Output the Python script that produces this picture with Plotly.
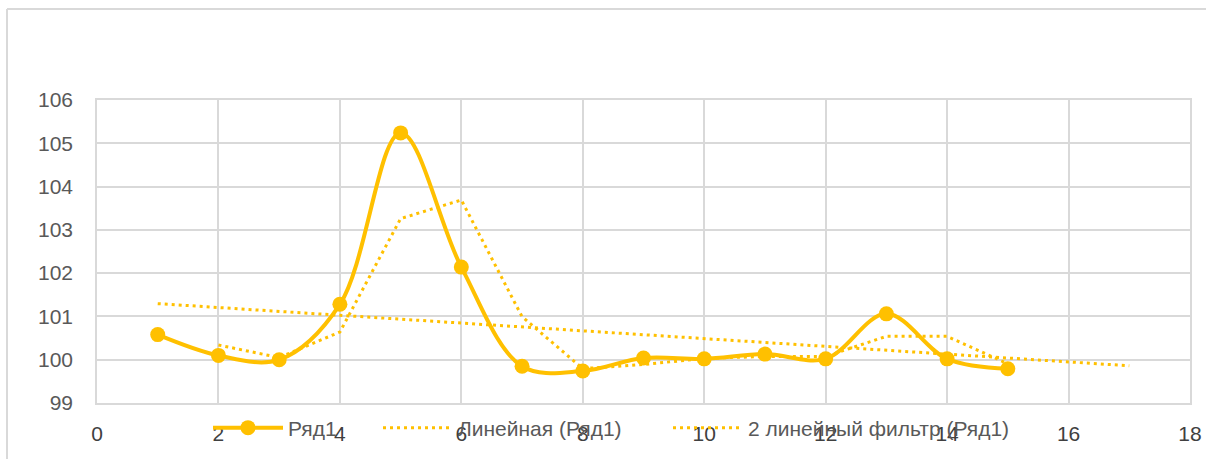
import numpy as np
import plotly.graph_objects as go

# Data
x_vals = list(range(1, 16))
series_name = "Ряд1"
y_vals = [100.58, 100.10, 100.00, 101.28, 105.24, 102.14, 99.85, 99.74,
          100.04, 100.02, 100.13, 100.02, 101.06, 100.02, 99.79]
trend_name = "Линейная (Ряд1)"
ma_name = "2 линейный фильтр (Ряд1)"
forecast_forward = 2
ma_period = 2

x_ticks = list(range(0, 19, 2))
y_ticks = list(range(99, 107))

COLOR = "#FFC000"
FONT = "Liberation Sans"
FS = 21

# Linear trendline (least squares, forecast forward 2 periods)
slope, intercept = np.polyfit(x_vals, y_vals, 1)
trend_x = [x_vals[0], x_vals[-1] + forecast_forward]
trend_y = [slope * t + intercept for t in trend_x]

# Moving average, period 2
ma_x = x_vals[ma_period - 1:]
ma_y = [float(np.mean(y_vals[i - ma_period + 1:i + 1])) for i in range(ma_period - 1, len(y_vals))]

DOTS = "3px,4px"

fig = go.Figure()
fig.add_trace(go.Scatter(
    x=x_vals, y=y_vals, name=series_name, mode="lines+markers",
    line=dict(color=COLOR, width=4, shape="spline", smoothing=1),
    marker=dict(color=COLOR, size=15), legend="legend",
))
fig.add_trace(go.Scatter(
    x=trend_x, y=trend_y, name=trend_name, mode="lines",
    line=dict(color=COLOR, width=3, dash=DOTS), legend="legend2",
))
fig.add_trace(go.Scatter(
    x=ma_x, y=ma_y, name=ma_name, mode="lines",
    line=dict(color=COLOR, width=3, dash=DOTS), legend="legend3",
))

L, R, T, B = 97, 16, 100, 56
W, H = 1206, 459
pw = W - L - R
ph = H - T - B


def px_x(p):
    return (p - L) / pw


def px_y(p):
    return (H - B - p) / ph


leg_common = dict(orientation="h", yanchor="middle", xanchor="left",
                  bgcolor="rgba(0,0,0,0)", itemwidth=70,
                  font=dict(family=FONT, size=FS, color="#595959"))

grid = "#D9D9D9"
fig.update_layout(
    width=W, height=H,
    margin=dict(l=L, r=R, t=T, b=B, autoexpand=False),
    paper_bgcolor="white", plot_bgcolor="white",
    font=dict(family=FONT, size=FS, color="#595959"),
    showlegend=True,
    legend=dict(x=px_x(208), y=px_y(428), **leg_common),
    legend2=dict(x=px_x(378), y=px_y(428), **leg_common),
    legend3=dict(x=px_x(668), y=px_y(428), **leg_common),
    xaxis=dict(range=[0, 18], tickvals=x_ticks, ticktext=[str(t) for t in x_ticks],
               showgrid=True, gridcolor=grid, gridwidth=1.5, zeroline=False,
               showline=True, linecolor=grid, linewidth=1.5, mirror=True,
               ticks="", ticklabelstandoff=11, automargin=False,
               tickfont=dict(family=FONT, size=FS, color="#404040")),
    yaxis=dict(range=[99, 106], tickvals=y_ticks, ticktext=[str(t) for t in y_ticks],
               showgrid=True, gridcolor=grid, gridwidth=1.5, zeroline=False,
               showline=True, linecolor=grid, linewidth=1.5, mirror=True,
               ticks="", ticklabelstandoff=18, automargin=False,
               tickfont=dict(family=FONT, size=FS, color="#595959")),
)

# Outer chart border (left and top edges visible in frame)
fig.add_shape(type="line", xref="paper", yref="paper",
              x0=px_x(7), x1=px_x(7), y0=px_y(9), y1=px_y(470),
              line=dict(color="#D9D9D9", width=2))
fig.add_shape(type="line", xref="paper", yref="paper",
              x0=px_x(7), x1=px_x(1220), y0=px_y(9), y1=px_y(9),
              line=dict(color="#D9D9D9", width=2))

fig.write_html("out.html", config={"displayModeBar": False},
               post_script="document.body.style.margin='0';document.body.style.overflow='hidden';")
